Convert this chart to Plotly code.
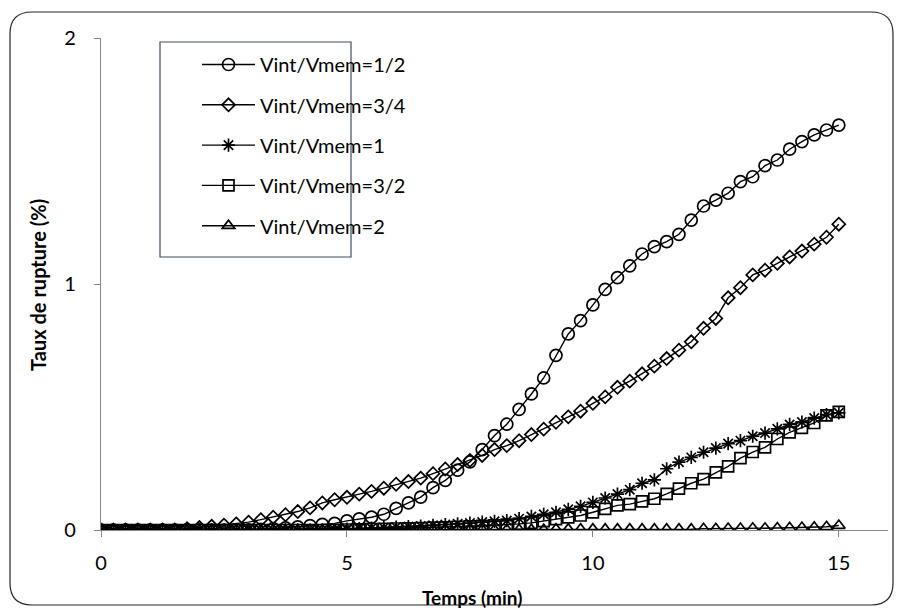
import plotly.graph_objects as go

t = [i * 0.25 for i in range(61)]

v_half = [0]*12 + [0.001, 0.003, 0.006, 0.009, 0.013, 0.018, 0.023, 0.027,
          0.037, 0.045, 0.052, 0.064, 0.088, 0.11, 0.134, 0.172, 0.202, 0.243,
          0.277, 0.327, 0.384, 0.43, 0.49, 0.553, 0.618, 0.71, 0.797, 0.851,
          0.915, 0.978, 1.026, 1.074, 1.122, 1.152, 1.172, 1.202, 1.26, 1.317,
          1.341, 1.369, 1.416, 1.436, 1.481, 1.504, 1.548, 1.579, 1.606, 1.626, 1.646]

v_34 = [0]*7 + [0.005, 0.01, 0.015, 0.02, 0.025, 0.032, 0.042, 0.052, 0.062,
        0.075, 0.09, 0.11, 0.123, 0.133, 0.146, 0.157, 0.17, 0.186, 0.197, 0.211,
        0.229, 0.248, 0.266, 0.283, 0.303, 0.327, 0.343, 0.363, 0.388, 0.41,
        0.438, 0.46, 0.483, 0.515, 0.541, 0.58, 0.605, 0.635, 0.666, 0.697,
        0.731, 0.765, 0.82, 0.86, 0.944, 0.985, 1.037, 1.056, 1.084, 1.11,
        1.134, 1.162, 1.19, 1.243]

v_1 = [0]*19 + [0.002, 0.004, 0.006, 0.008, 0.01, 0.012, 0.014, 0.016, 0.019,
       0.022, 0.025, 0.028, 0.032, 0.035, 0.038, 0.046, 0.055, 0.064, 0.072,
       0.084, 0.096, 0.112, 0.13, 0.146, 0.164, 0.19, 0.204, 0.249, 0.276,
       0.295, 0.316, 0.333, 0.351, 0.363, 0.381, 0.394, 0.411, 0.429, 0.439,
       0.455, 0.469, 0.476]

v_32 = [0]*19 + [0.001, 0.002, 0.003, 0.004, 0.005, 0.006, 0.007, 0.008, 0.01,
        0.011, 0.013, 0.015, 0.017, 0.019, 0.022, 0.025, 0.029, 0.036, 0.044,
        0.051, 0.059, 0.072, 0.086, 0.1, 0.105, 0.116, 0.127, 0.147, 0.168,
        0.19, 0.207, 0.234, 0.259, 0.292, 0.317, 0.336, 0.37, 0.397, 0.415,
        0.435, 0.466, 0.48]

v_2 = [0]*29 + [0.001]*8 + [0.003]*12 + [0.005, 0.005, 0.006, 0.006, 0.007,
       0.007, 0.008, 0.009, 0.01, 0.011, 0.013, 0.018]

names = ["Vint/Vmem=1/2", "Vint/Vmem=3/4", "Vint/Vmem=1", "Vint/Vmem=3/2", "Vint/Vmem=2"]
series = [v_half, v_34, v_1, v_32, v_2]
symbols = ["circle-open", "diamond-open", "asterisk-open", "square-open", "triangle-up-open"]
sizes = [12, 10, 11, 11, 11]

x_ticks = [0, 5, 10, 15]
y_ticks = [0, 1, 2]

FONT = "Lato"

fig = go.Figure()
for i, (nm, vals, sym, sz) in enumerate(zip(names, series, symbols, sizes)):
    fig.add_trace(go.Scatter(
        x=t, y=vals, name=nm, mode="lines+markers",
        line=dict(color="black", width=1.4),
        marker=dict(symbol=sym, size=sz, color="black", line=dict(width=1.7, color="black")),
        legendgroup=f"g{i}",
    ))

L, R, T, B = 101, 888, 38, 530
W, H = 902, 614
def px(xp):
    return (xp - L) / (R - L)
def py(yp):
    return (B - yp) / (B - T)

# rounded border
x0, x1, y0, y1, r = 10, 893, 12, 605, 22
path = (f"M {px(x0+r)},{py(y0)} L {px(x1-r)},{py(y0)} Q {px(x1)},{py(y0)} {px(x1)},{py(y0+r)} "
        f"L {px(x1)},{py(y1-r)} Q {px(x1)},{py(y1)} {px(x1-r)},{py(y1)} "
        f"L {px(x0+r)},{py(y1)} Q {px(x0)},{py(y1)} {px(x0)},{py(y1-r)} "
        f"L {px(x0)},{py(y0+r)} Q {px(x0)},{py(y0)} {px(x0+r)},{py(y0)} Z")

shapes = [
    dict(type="path", xref="paper", yref="paper", path=path,
         line=dict(color="#262626", width=1.2), layer="below"),
    dict(type="rect", xref="paper", yref="paper",
         x0=px(160), x1=px(351), y0=py(257), y1=py(42),
         line=dict(color="#3f4c60", width=1.2)),
]

annotations = [
    dict(text="<b>Temps (min)</b>", xref="paper", yref="paper", x=px(472), y=py(597),
         showarrow=False, font=dict(size=19, color="black", family=FONT),
         xanchor="center", yanchor="middle"),
    dict(text="<b>Taux de rupture (%)</b>", xref="paper", yref="paper", x=px(38), y=py(285),
         showarrow=False, textangle=-90, font=dict(size=20, color="black", family=FONT),
         xanchor="center", yanchor="middle"),
]

fig.update_layout(
    width=W, height=H,
    margin=dict(l=L, r=W - R, t=T, b=H - B),
    paper_bgcolor="white", plot_bgcolor="white",
    font=dict(family=FONT, size=20, color="black"),
    showlegend=True,
    legend=dict(x=px(197), y=py(45), xanchor="left", yanchor="top",
                bgcolor="rgba(0,0,0,0)", borderwidth=0,
                font=dict(size=20, family=FONT),
                traceorder="grouped", tracegroupgap=11.3, itemwidth=53),
    shapes=shapes,
    annotations=annotations,
    xaxis=dict(range=[0, 16], tickvals=x_ticks, showgrid=False, zeroline=False,
               showline=True, linecolor="#868686", linewidth=1.3,
               ticks="outside", ticklen=6, tickcolor="#868686",
               tickfont=dict(size=20), ticklabelstandoff=9, anchor="y"),
    yaxis=dict(range=[0, 2], tickvals=y_ticks, showgrid=False, zeroline=False,
               showline=True, linecolor="#868686", linewidth=1.3,
               ticks="outside", ticklen=6, tickcolor="#868686",
               tickfont=dict(size=20), ticklabelstandoff=14),
)

fig.write_html("out.html", config={"displayModeBar": False},
               post_script="document.body.style.margin='0px';")
